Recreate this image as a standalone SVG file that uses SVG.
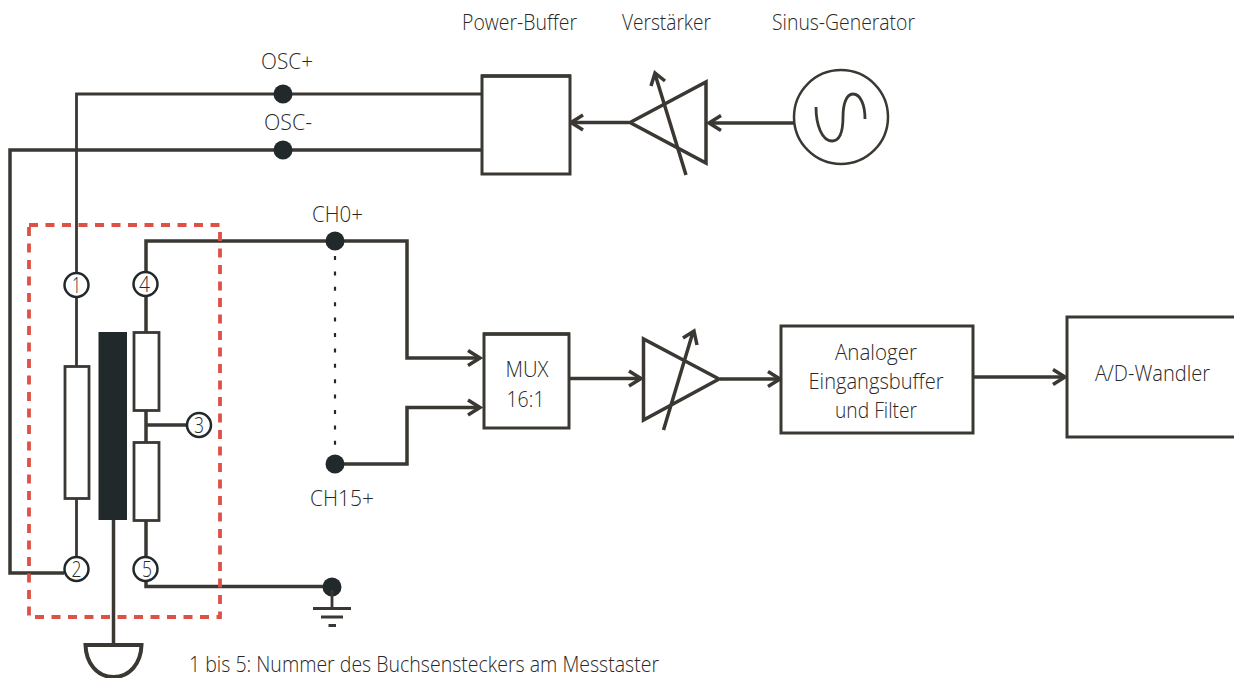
<svg xmlns="http://www.w3.org/2000/svg" width="1234" height="678" viewBox="0 0 1234 678">
<style>
text{font-family:"Open Sans","Noto Sans","Liberation Sans",sans-serif;font-size:22.500px;fill:#2a2826;font-weight:300}
.n{text-anchor:middle}
.l{fill:none;stroke:#3b3833;stroke-width:3.500}
.t{fill:none;stroke:#3b3833;stroke-width:2.800}
.b{fill:#fff;stroke:#3b3833;stroke-width:3}
.c{fill:#fff;stroke:#22292a;stroke-width:2.500}
.d{fill:#22292a}
</style>
<defs>
<marker id="a" markerUnits="userSpaceOnUse" markerWidth="20" markerHeight="24" refX="15" refY="10" orient="auto" viewBox="0 0 20 24" overflow="visible">
<path d="M3,2.500L15,10L3,17.500" fill="none" stroke="#3b3833" stroke-width="3.500"/>
</marker>
</defs>
<g id="connectors">
<path class="t" d="M76.500,272V94H482"/>
<path class="l" d="M64,573H10V150H482"/>
<path class="t" d="M76.500,297V366M76.500,498V557"/>
<path class="l" d="M146,272V241H335"/>
<path class="l" d="M146,296V332M146,410V442M146,425H186M146,520V557"/>
<path class="l" d="M146,581V586.500H332"/>
<path class="l" d="M113.500,520V645"/>
<path class="l" d="M335,241H407V358H480" marker-end="url(#a)"/>
<path class="l" d="M335,464H407V407.500H480" marker-end="url(#a)"/>
<path d="M335,256V462" fill="none" stroke="#22292a" stroke-width="2.200" stroke-dasharray="4 11.400"/>
<path class="l" d="M569,378.500H641" marker-end="url(#a)"/>
<path class="l" d="M720,379H780" marker-end="url(#a)"/>
<path class="l" d="M973,377H1065" marker-end="url(#a)"/>
<path class="l" d="M629,122.500H571" marker-end="url(#a)"/>
<path class="l" d="M794,123H709" marker-end="url(#a)"/>
</g>
<g id="probe-frame"><rect x="29" y="225" width="191" height="392" fill="none" stroke="#dc5247" stroke-width="3.800" stroke-dasharray="9 7.500"/></g>
<g id="osc-plus"><circle class="d" cx="283" cy="94" r="9.500"/><text class="n" x="287" y="69" textLength="52" lengthAdjust="spacingAndGlyphs">OSC+</text></g>
<g id="osc-minus"><circle class="d" cx="283" cy="150" r="9.500"/><text class="n" x="288" y="130" textLength="48" lengthAdjust="spacingAndGlyphs">OSC-</text></g>
<g id="ch0"><circle class="d" cx="335" cy="241" r="9.500"/><text class="n" x="337.500" y="222" textLength="51" lengthAdjust="spacingAndGlyphs">CH0+</text></g>
<g id="ch15"><circle class="d" cx="335" cy="464" r="9.500"/><text class="n" x="342" y="506" textLength="64" lengthAdjust="spacingAndGlyphs">CH15+</text></g>
<g id="pin-1"><circle class="c" cx="76.500" cy="285" r="12"/><text class="n" x="76.500" y="293" textLength="9" lengthAdjust="spacingAndGlyphs">1</text></g>
<g id="pin-2"><circle class="c" cx="76.500" cy="569" r="12"/><text class="n" x="76.500" y="577" textLength="10" lengthAdjust="spacingAndGlyphs">2</text></g>
<g id="pin-3"><circle class="c" cx="199" cy="425" r="12"/><text class="n" x="199" y="433" textLength="10" lengthAdjust="spacingAndGlyphs">3</text></g>
<g id="pin-4"><circle class="c" cx="145.500" cy="284" r="12"/><text class="n" x="144.500" y="292" textLength="11" lengthAdjust="spacingAndGlyphs">4</text></g>
<g id="pin-5"><circle class="c" cx="145.500" cy="569" r="12"/><text class="n" x="147" y="577" textLength="10" lengthAdjust="spacingAndGlyphs">5</text></g>
<g id="resistor-primary"><rect class="t" style="fill:#fff" x="65" y="366.500" width="24" height="132"/></g>
<g id="core"><rect class="d" x="98.500" y="332" width="28.500" height="188"/></g>
<g id="resistor-upper"><rect class="t" style="fill:#fff" x="134" y="332.500" width="25" height="78"/></g>
<g id="resistor-lower"><rect class="t" style="fill:#fff" x="134" y="442.500" width="25" height="78"/></g>
<g id="shield"><path d="M85.500,645H141.500C141,663 130,677 113.500,677C97,677 86,663 85.500,645Z" fill="#fff" stroke="#3b3833" stroke-width="4"/></g>
<g id="ground"><circle class="d" cx="332" cy="587" r="9.500"/><path class="t" d="M332,590V608M313,608.500H351M321,617H343M328.500,625.500H336"/></g>
<g id="power-buffer"><rect class="b" x="482" y="76" width="88" height="98"/><path class="l" d="M481,76H571"/><text x="462" y="30" textLength="115" lengthAdjust="spacingAndGlyphs">Power-Buffer</text></g>
<g id="verstaerker"><path class="l" d="M630,122.500L706,82V163Z"/><path class="l" d="M686,175L655,74M651,86L655,73L665,81"/><text x="622" y="30" textLength="89" lengthAdjust="spacingAndGlyphs">Verstärker</text></g>
<g id="sinus-generator"><circle class="c" style="stroke:#3b3833" cx="841" cy="117" r="47"/><path class="t" d="M816,107C816,125 822,141 832,141C841,141 843,128 843,117C843,105 846,94 853,94C861,94 865,106 865,119"/><text x="772" y="30" textLength="143" lengthAdjust="spacingAndGlyphs">Sinus-Generator</text></g>
<g id="mux"><rect class="b" x="484" y="334" width="85" height="94"/><path class="l" d="M483,334H570"/><text class="n" x="527" y="377" textLength="43" lengthAdjust="spacingAndGlyphs">MUX</text><text class="n" x="525.500" y="407" textLength="38" lengthAdjust="spacingAndGlyphs">16:1</text></g>
<g id="amplifier"><path class="l" d="M643.500,339V420L719,379Z"/><path class="l" d="M663.500,430L693,332M683,338L694,331L697,345"/></g>
<g id="eingangsbuffer"><rect class="b" x="781" y="326" width="192" height="107"/><text class="n" x="876" y="360" textLength="82" lengthAdjust="spacingAndGlyphs">Analoger</text><text class="n" x="876" y="389" textLength="135" lengthAdjust="spacingAndGlyphs">Eingangsbuffer</text><text class="n" x="876" y="418" textLength="82" lengthAdjust="spacingAndGlyphs">und Filter</text></g>
<g id="ad-wandler"><rect class="b" x="1067" y="317" width="170" height="120"/><text x="1095" y="381" textLength="115" lengthAdjust="spacingAndGlyphs">A/D-Wandler</text></g>
<text x="189" y="671.500" style="font-size:22px" textLength="470" lengthAdjust="spacingAndGlyphs">1 bis 5: Nummer des Buchsensteckers am Messtaster</text>
</svg>
